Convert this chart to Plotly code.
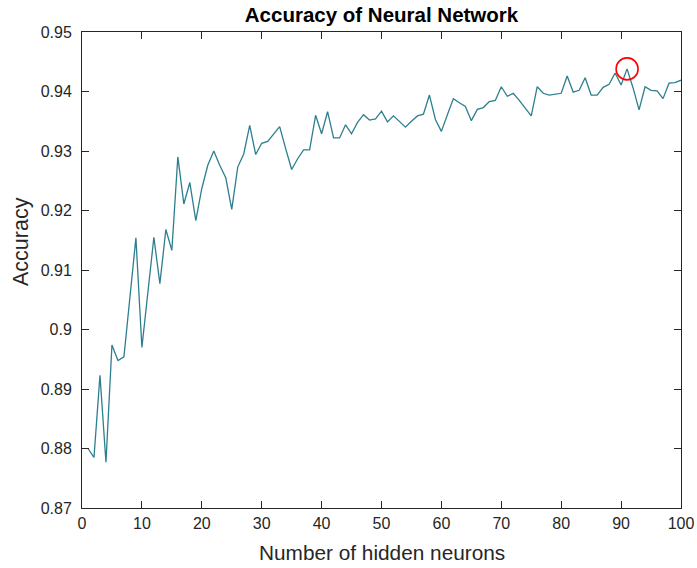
import plotly.graph_objects as go

neurons = list(range(1, 101))
accuracy = [
    0.8800, 0.8785, 0.8923, 0.8777, 0.8974, 0.8948, 0.8954, 0.9051, 0.9154, 0.8970,
    0.9063, 0.9155, 0.9077, 0.9168, 0.9133, 0.9290, 0.9211, 0.9247, 0.9183, 0.9237,
    0.9276, 0.9300, 0.9276, 0.9255, 0.9202, 0.9273, 0.9295, 0.9343, 0.9294, 0.9313,
    0.9316, 0.9329, 0.9341, 0.9304, 0.9269, 0.9287, 0.9302, 0.9302, 0.9360, 0.9329,
    0.9366, 0.9322, 0.9322, 0.9344, 0.9329, 0.9348, 0.9361, 0.9352, 0.9354, 0.9367,
    0.9349, 0.9359, 0.9350, 0.9340, 0.9350, 0.9359, 0.9362, 0.9394, 0.9353, 0.9333,
    0.9361, 0.9388, 0.9381, 0.9375, 0.9351, 0.9370, 0.9373, 0.9383, 0.9385, 0.9408,
    0.9392, 0.9397, 0.9385, 0.9372, 0.9359, 0.9408, 0.9397, 0.9394, 0.9395, 0.9397,
    0.9426, 0.9399, 0.9402, 0.9423, 0.9394, 0.9394, 0.9407, 0.9412, 0.9431, 0.9411,
    0.9438, 0.9406, 0.9369, 0.9408, 0.9402, 0.9401, 0.9388, 0.9414, 0.9415, 0.9419,
]
x_ticks = [0, 10, 20, 30, 40, 50, 60, 70, 80, 90, 100]
y_ticks = [0.87, 0.88, 0.89, 0.90, 0.91, 0.92, 0.93, 0.94, 0.95]
y_tick_labels = ["0.87", "0.88", "0.89", "0.9", "0.91", "0.92", "0.93", "0.94", "0.95"]

best_i = max(range(len(accuracy)), key=lambda i: accuracy[i])

FONT = "Liberation Sans, Arial, sans-serif"
TXT = "#262626"

fig = go.Figure()
fig.add_trace(go.Scatter(
    x=neurons, y=accuracy, mode="lines",
    line=dict(color="#2d7f8e", width=1.3), showlegend=False, hoverinfo="skip",
))
fig.add_trace(go.Scatter(
    x=[neurons[best_i]], y=[accuracy[best_i]], mode="markers",
    marker=dict(symbol="circle-open", size=22, color="red", line=dict(color="red", width=1.6)),
    showlegend=False, hoverinfo="skip",
))

axis_common = dict(
    showline=True, linecolor=TXT, linewidth=1, mirror="ticks",
    ticks="inside", ticklen=7, tickwidth=1, tickcolor=TXT,
    showgrid=False, zeroline=False, automargin=False,
    tickfont=dict(family=FONT, size=16, color=TXT),
)

W, H = 697, 568
fig.update_layout(
    width=W, height=H,
    margin=dict(l=82, r=16, t=32, b=60, autoexpand=False),
    paper_bgcolor="white", plot_bgcolor="white",
    title=dict(text="<b>Accuracy of Neural Network</b>", x=0.5, xref="paper",
               y=1 - 15 / H, yref="container", yanchor="middle", xanchor="center",
               font=dict(family=FONT, size=20.5, color="#000000")),
    xaxis=dict(range=[0, 100], tickvals=x_ticks, ticklabelstandoff=1, **axis_common),
    yaxis=dict(range=[0.87, 0.95], tickvals=y_ticks, ticktext=y_tick_labels,
               ticklabelstandoff=6, **axis_common),
    annotations=[
        dict(text="Number of hidden neurons", xref="paper", yref="paper",
             x=0.5, y=(508 - 552) / 476, xanchor="center", yanchor="middle",
             showarrow=False, font=dict(family=FONT, size=20.8, color=TXT)),
        dict(text="Accuracy", xref="paper", yref="paper",
             x=(21 - 82) / 599, y=(508 - 242) / 476, xanchor="center", yanchor="middle",
             textangle=-90, showarrow=False, font=dict(family=FONT, size=21.5, color=TXT)),
    ],
)

fig.write_html(
    "out.html",
    config={"displayModeBar": False, "staticPlot": True},
    post_script="document.body.style.margin='0';document.body.style.overflow='hidden';",
)
